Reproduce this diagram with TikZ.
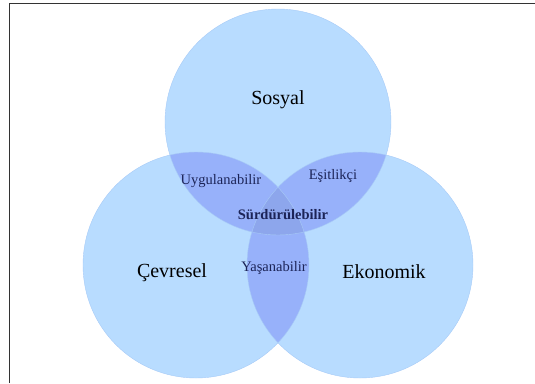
\documentclass[tikz,border=0pt]{standalone}
\usepackage{fontspec}
\setmainfont{Liberation Serif}
\definecolor{venn}{HTML}{B8DCFF}
\definecolor{vennpair}{HTML}{97B1FA}
\definecolor{venntriple}{HTML}{8DA6EC}
\definecolor{vennedge}{HTML}{A8CBF7}
\definecolor{smalltext}{HTML}{1C2457}
\begin{document}
\begin{tikzpicture}[x=1pt,y=-1pt,
    big/.style={font=\fontsize{20}{22}\selectfont},
    small/.style={font=\fontsize{14.5}{16}\selectfont, text=smalltext}]
          \useasboundingbox (0,0) rectangle (535,383);
          \draw[black!80] (9,383) -- (9,3) -- (535,3);
          \coordinate (S) at (278,122);
          \coordinate (C) at (196,265);
          \coordinate (E) at (360,265);
          % circles
          \fill[venn] (S) circle (113pt);
          \fill[venn] (C) circle (113pt);
          \fill[venn] (E) circle (113pt);
          % overlaps
          \begin{scope}
            \clip (C) circle (113pt);
            \fill[vennpair] (E) circle (113pt);
          \end{scope}
          \begin{scope}
            \clip (S) circle (113pt);
            \fill[vennpair] (C) circle (113pt);
            \fill[vennpair] (E) circle (113pt);
            \clip (C) circle (113pt);
            \fill[venntriple] (E) circle (113pt);
          \end{scope}
          \draw[vennedge] (S) circle (113pt) (C) circle (113pt) (E) circle (113pt);
          % labels
          \node[big] (sosyal) at (278,100) {Sosyal};
          \node[big] (cevresel) at (172,273) {Çevresel};
          \node[big] (ekonomik) at (384,272) {Ekonomik};
          \node[small] (uygulanabilir) at (221,181) {Uygulanabilir};
          \node[small] (esitlikci) at (333,176) {Eşitlikçi};
          \node[small] (yasanabilir) at (274,268) {Yaşanabilir};
          \node[small, font=\fontsize{14.5}{16}\selectfont\bfseries] (surdurulebilir) at (283,215) {Sürdürülebilir};
    \end{tikzpicture}
\end{document}
